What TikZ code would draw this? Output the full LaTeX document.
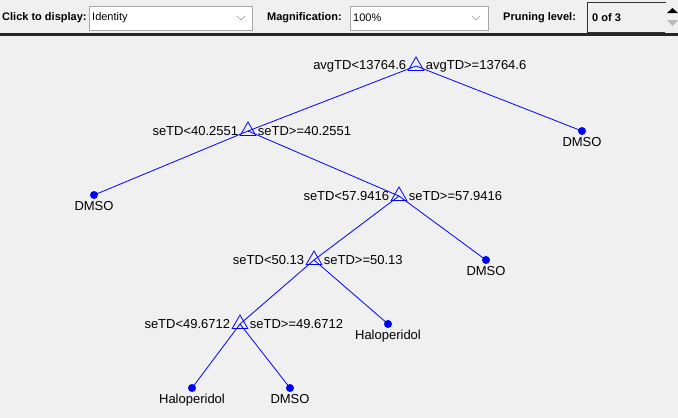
\documentclass[tikz,border=0pt]{standalone}
\usepackage{fontspec}
\setmainfont{Liberation Sans}
\usetikzlibrary{positioning,shapes.geometric}
\definecolor{background}{HTML}{F0F0F0}
\definecolor{treeblue}{HTML}{0000FF}
\definecolor{boxedge}{HTML}{A8A8A8}

\begin{document}
\begin{tikzpicture}[
    x=1pt, y=1pt,
    node distance=3pt,
    font=\fontsize{13}{15}\selectfont,
    split/.style={draw=treeblue, line width=0.8pt, regular polygon, regular polygon sides=3, minimum size=18pt, inner sep=0pt},
    leaf/.style={circle, fill=treeblue, minimum size=8pt, inner sep=0pt},
    cond/.style={inner sep=1pt},
    cls/.style={inner sep=1pt},
    edge/.style={treeblue, line width=0.8pt},
    toolkey/.style={anchor=west, inner sep=0pt, font=\fontsize{11}{13}\selectfont\bfseries},
    toolval/.style={anchor=west, inner sep=0pt, font=\fontsize{11}{13}\selectfont},
    combo/.style={draw=boxedge, fill=white, line width=0.8pt},
    chevron/.style={draw=gray!80, line width=0.6pt}
]
    \fill[background] (0,0) rectangle (678,-418);
    \useasboundingbox (0,0) rectangle (678,-418);

    % Toolbar
    \fill[black!85] (0,-33) rectangle (678,-35.5);
    \node[toolkey] (clickkey) at (2,-18) {Click to display:};
    \draw[combo] (89.5,-6.5) rectangle (252.5,-30.5);
    \draw[chevron] (237,-16) -- (241,-20) -- (245,-16);
    \node[toolval] (clickval) at (92,-18) {Identity};
    \node[toolkey] (magkey) at (267,-18) {Magnification:};
    \draw[combo] (350.5,-6.5) rectangle (488.5,-30.5);
    \draw[chevron] (472,-16) -- (476,-20) -- (480,-16);
    \node[toolval] (magval) at (353,-18) {100\%};
    \node[toolkey] (prunekey) at (503,-18) {Pruning level:};
    \draw[draw=black!80, fill=background, line width=0.8pt] (587.5,-2.5) rectangle (665,-32.5);
    \node[toolkey] (pruneval) at (592,-18) {0 of 3};
    \fill[gray!12] (665.4,-2.5) rectangle (678,-32.5);
    \fill[black] (667,-13) -- (672.5,-8) -- (678,-13) -- cycle;
    \fill[gray!55] (667,-20) -- (672.5,-26) -- (678,-20) -- cycle;

    % Nodes
    \node[split] (root) at (416,-66) {};
    \node[split] (s1) at (248,-131) {};
    \node[split] (s2) at (399,-196) {};
    \node[split] (s3) at (314,-260) {};
    \node[split] (s4) at (240,-324) {};
    \node[leaf] (d1) at (582,-131) {};
    \node[leaf] (d2) at (94,-195) {};
    \node[leaf] (d3) at (486,-260) {};
    \node[leaf] (h1) at (388,-324) {};
    \node[leaf] (h2) at (192,-388) {};
    \node[leaf] (d4) at (290,-388) {};

    % Split rules
    \node[cond, left=of root] (rootL) {avgTD<13764.6};
    \node[cond, right=of root] (rootR) {avgTD>=13764.6};
    \node[cond, left=of s1] (s1L) {seTD<40.2551};
    \node[cond, right=of s1] (s1R) {seTD>=40.2551};
    \node[cond, left=of s2] (s2L) {seTD<57.9416};
    \node[cond, right=of s2] (s2R) {seTD>=57.9416};
    \node[cond, left=of s3] (s3L) {seTD<50.13};
    \node[cond, right=of s3] (s3R) {seTD>=50.13};
    \node[cond, left=of s4] (s4L) {seTD<49.6712};
    \node[cond, right=of s4] (s4R) {seTD>=49.6712};

    % Classes
    \node[cls, below=1pt of d1] (d1L) {DMSO};
    \node[cls, below=1pt of d2] (d2L) {DMSO};
    \node[cls, below=1pt of d3] (d3L) {DMSO};
    \node[cls, below=1pt of h1] (h1L) {Haloperidol};
    \node[cls, below=1pt of h2] (h2L) {Haloperidol};
    \node[cls, below=1pt of d4] (d4L) {DMSO};

    % Edges
    \draw[edge] (root.center) -- (s1.center);
    \draw[edge] (root.center) -- (d1.center);
    \draw[edge] (s1.center) -- (d2.center);
    \draw[edge] (s1.center) -- (s2.center);
    \draw[edge] (s2.center) -- (s3.center);
    \draw[edge] (s2.center) -- (d3.center);
    \draw[edge] (s3.center) -- (s4.center);
    \draw[edge] (s3.center) -- (h1.center);
    \draw[edge] (s4.center) -- (h2.center);
    \draw[edge] (s4.center) -- (d4.center);
\end{tikzpicture}
\end{document}
